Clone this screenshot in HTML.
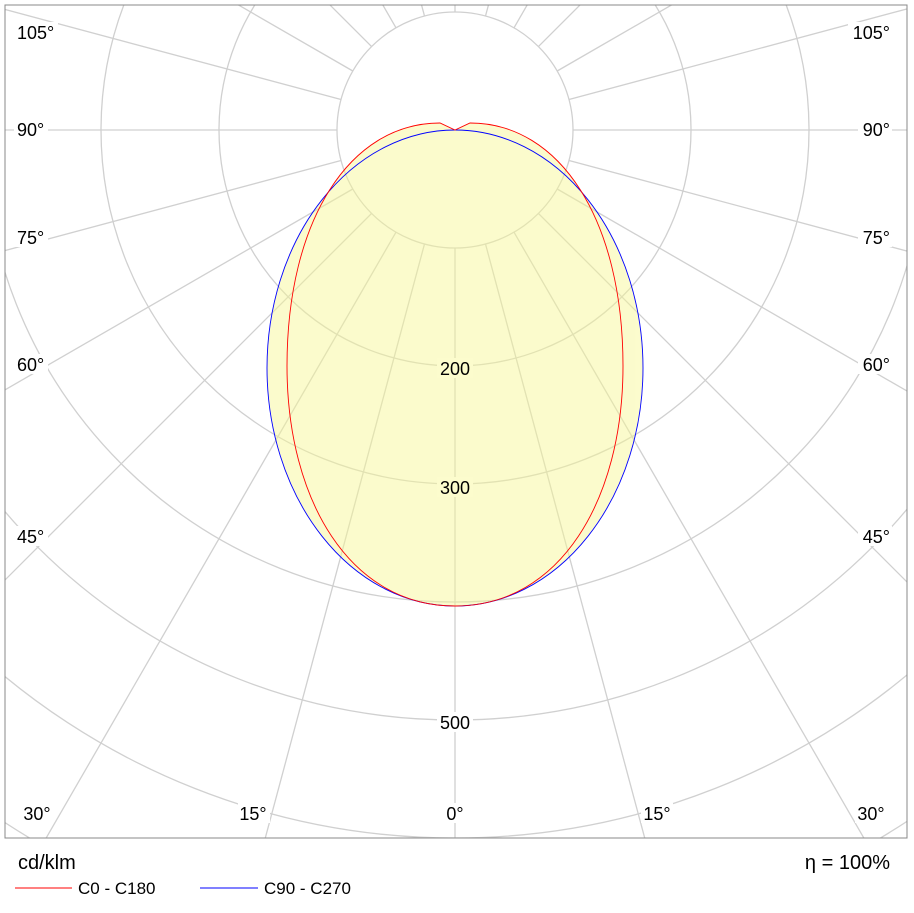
<!DOCTYPE html>
<html><head><meta charset="utf-8"><style>
html,body{margin:0;padding:0;background:#fff;width:914px;height:913px;overflow:hidden;}
svg{display:block;}
svg text{font-family:"Liberation Sans",sans-serif;}
</style></head><body>
<svg width="914" height="913" viewBox="0 0 914 913" xmlns="http://www.w3.org/2000/svg">
<defs><clipPath id="c"><rect x="5" y="5" width="902" height="833"/></clipPath></defs>
<rect width="914" height="913" fill="#fff"/>
<g clip-path="url(#c)" stroke="#d0d0d0" stroke-width="1.3" fill="none">
<circle cx="455" cy="130" r="118"/>
<circle cx="455" cy="130" r="236"/>
<circle cx="455" cy="130" r="354"/>
<circle cx="455" cy="130" r="472"/>
<circle cx="455" cy="130" r="590"/>
<circle cx="455" cy="130" r="708"/>
<circle cx="455" cy="130" r="826"/>
<circle cx="455" cy="130" r="944"/>
<line x1="455" y1="248" x2="455" y2="1330"/>
<line x1="485.5" y1="244" x2="765.6" y2="1289"/><line x1="424.5" y1="244" x2="144.4" y2="1289"/>
<line x1="514" y1="232.2" x2="1055" y2="1169"/><line x1="396" y1="232.2" x2="-145" y2="1169"/>
<line x1="538.4" y1="213.4" x2="1303.5" y2="978.5"/><line x1="371.6" y1="213.4" x2="-393.5" y2="978.5"/>
<line x1="557.2" y1="189" x2="1494" y2="730"/><line x1="352.8" y1="189" x2="-584" y2="730"/>
<line x1="569" y1="160.5" x2="1614" y2="440.6"/><line x1="341" y1="160.5" x2="-704" y2="440.6"/>
<line x1="573" y1="130" x2="1655" y2="130"/><line x1="337" y1="130" x2="-745" y2="130"/>
<line x1="569" y1="99.5" x2="1614" y2="-180.6"/><line x1="341" y1="99.5" x2="-704" y2="-180.6"/>
<line x1="557.2" y1="71" x2="1494" y2="-470"/><line x1="352.8" y1="71" x2="-584" y2="-470"/>
<line x1="538.4" y1="46.6" x2="1303.5" y2="-718.5"/><line x1="371.6" y1="46.6" x2="-393.5" y2="-718.5"/>
<line x1="514" y1="27.8" x2="1055" y2="-909"/><line x1="396" y1="27.8" x2="-145" y2="-909"/>
<line x1="485.5" y1="16" x2="765.6" y2="-1029"/><line x1="424.5" y1="16" x2="144.4" y2="-1029"/>
<line x1="455" y1="12" x2="455" y2="-1070"/>
</g>
<g clip-path="url(#c)">
<g opacity="0.45" fill="#f8f890">
<path d="M455,606 C350,606 287,500 287,366 C287,220 350,123 440,123 L455,130 L470,123 C560,123 623,220 623,366 C623,500 560,606 455,606 Z"/>
<ellipse cx="455" cy="368" rx="188" ry="238"/>
</g>
<ellipse cx="455" cy="368" rx="188" ry="238" fill="none" stroke="#0000ff" stroke-width="0.9"/>
<path d="M455,606 C350,606 287,500 287,366 C287,220 350,123 440,123 L455,130 L470,123 C560,123 623,220 623,366 C623,500 560,606 455,606 Z" fill="none" stroke="#ff0000" stroke-width="0.9"/>
</g>
<rect x="5" y="5" width="902" height="833" fill="none" stroke="#888" stroke-width="1"/>
<g fill="#fcfccd">
<rect x="437" y="358" width="36" height="20"/>
<rect x="437" y="477" width="36" height="20"/>
</g>
<g fill="#fff">
<rect x="437" y="712" width="36" height="20"/>
<rect x="443" y="803" width="24" height="20"/>
<rect x="238" y="803" width="32" height="20"/>
<rect x="641" y="803" width="32" height="20"/>
<rect x="21" y="803" width="32" height="20"/>
<rect x="855" y="803" width="32" height="20"/>
<rect x="14" y="22" width="44" height="20"/><rect x="14" y="119" width="34" height="20"/><rect x="14" y="227" width="34" height="20"/><rect x="14" y="354" width="34" height="20"/><rect x="14" y="526" width="34" height="20"/>
<rect x="848" y="22" width="44" height="20"/><rect x="858" y="119" width="34" height="20"/><rect x="858" y="227" width="34" height="20"/><rect x="858" y="354" width="34" height="20"/><rect x="858" y="526" width="34" height="20"/>
</g>
<g font-size="18" fill="#000" text-anchor="middle">
<text x="455" y="375">200</text>
<text x="455" y="494">300</text>
<text x="455" y="729">500</text>
<text x="455" y="820">0°</text>
<text x="253" y="820">15°</text>
<text x="657" y="820">15°</text>
<text x="37" y="820">30°</text>
<text x="871" y="820">30°</text>
</g>
<g font-size="18" fill="#000">
<text x="17" y="39">105°</text><text x="17" y="136">90°</text><text x="17" y="244">75°</text><text x="17" y="371">60°</text><text x="17" y="543">45°</text>
</g>
<g font-size="18" fill="#000" text-anchor="end">
<text x="890" y="39">105°</text><text x="890" y="136">90°</text><text x="890" y="244">75°</text><text x="890" y="371">60°</text><text x="890" y="543">45°</text>
</g>
<text x="18" y="869" font-size="20">cd/klm</text>
<text x="890" y="869" font-size="20" text-anchor="end">η = 100%</text>
<line x1="15" y1="888" x2="72" y2="888" stroke="#ff0000" stroke-width="1"/>
<text x="78" y="894" font-size="17">C0 - C180</text>
<line x1="200" y1="888" x2="258" y2="888" stroke="#0000ff" stroke-width="1"/>
<text x="264" y="894" font-size="17">C90 - C270</text>
</svg>
</body></html>
